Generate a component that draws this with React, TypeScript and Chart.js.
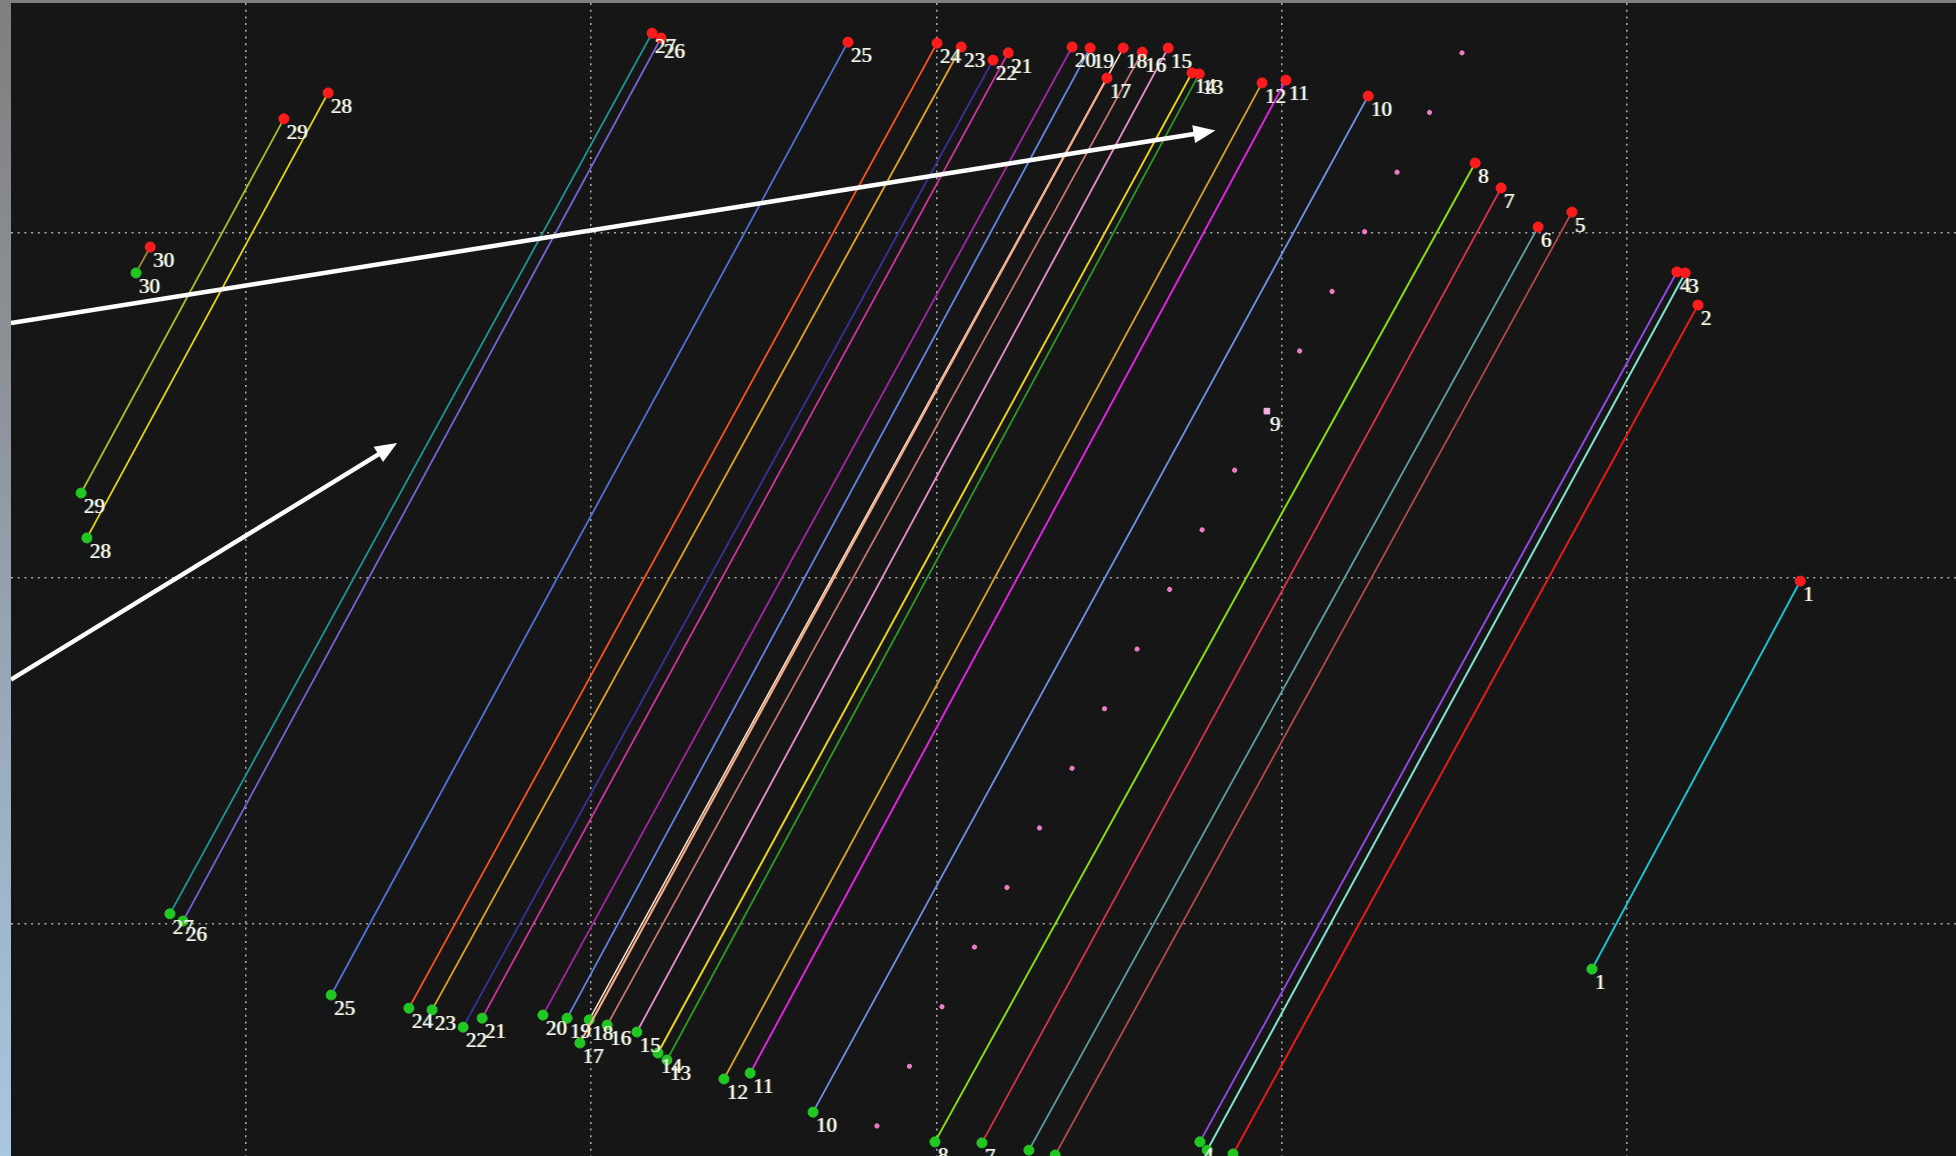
import React, { useEffect, useRef } from "react";
import { Chart, registerables } from "chart.js";

Chart.register(...registerables);

// Track ids, one straight run per id from its start (green) to its end (red)
const trackIds = [
  1, 2, 3, 4, 5, 6, 7, 8, 9, 10, 11, 12, 13, 14, 15,
  16, 17, 18, 19, 20, 21, 22, 23, 24, 25, 26, 27, 28, 29, 30,
];

const startX = [
  489.8, 385.9, 378.4, 376.3, 334.4, 326.8, 313.2, 299.6, 282.8, 264.3,
  246.1, 238.5, 222.0, 219.4, 213.3, 204.7, 196.8, 199.5, 193.1, 186.1,
  168.5, 163.0, 154.0, 147.3, 124.8, 81.9, 78.1, 54.1, 52.4, 68.3,
];
const startY = [
  86.8, 33.3, 34.4, 36.8, 33.0, 34.4, 36.5, 36.8, 41.4, 45.4,
  56.7, 55.0, 60.5, 62.5, 68.6, 70.6, 65.4, 72.1, 72.6, 73.5,
  72.6, 70.0, 75.0, 75.5, 79.3, 100.7, 102.8, 211.6, 224.6, 288.3,
];
const endX = [
  550.1, 520.5, 516.8, 514.4, 484.0, 474.2, 463.5, 456.0, 452.2, 425.0,
  401.2, 394.3, 376.1, 374.0, 367.1, 359.6, 349.4, 354.1, 344.5, 339.3,
  320.8, 316.4, 307.2, 300.2, 274.4, 220.3, 217.7, 123.9, 111.1, 72.4,
];
const endY = [
  199.1, 279.0, 288.3, 288.6, 305.9, 301.6, 312.9, 320.1, 352.0, 339.5,
  344.1, 343.3, 345.9, 346.2, 353.4, 352.2, 344.7, 353.4, 353.4, 353.7,
  352.0, 349.9, 353.7, 354.8, 355.1, 356.3, 357.7, 340.4, 332.9, 295.8,
];

const trackColors = [
  "#12c9d6", "#e41b1b", "#7fe3d2", "#9146e6", "#b3494a", "#5f9ea0",
  "#d8304f", "#8ae000", "#ea7cc6", "#6b94e6", "#e424e4", "#d9a521",
  "#2a9a22", "#ecd60c", "#e58cc9", "#c97676", "#f4aa88", "#f8dcc4",
  "#5f85e6", "#a226a6", "#d4339f", "#3535a0", "#e4a414", "#ff5512",
  "#4d72d9", "#7563d6", "#159a9a", "#ead800", "#a5c21e", "#a48634",
];

const trackWidths = [
  2, 2, 2, 2, 1.8, 1.8, 1.8, 2, 5, 1.8,
  2, 1.8, 1.8, 2, 1.8, 1.8, 2.2, 1.6, 1.8, 1.8,
  1.8, 1.8, 1.8, 1.8, 1.8, 1.8, 1.8, 1.8, 1.8, 1.8,
];

// Track 9 is drawn as a dotted trail and only labelled at one point along it
const dottedId = 9;
const dottedLabelX = 395.7;
const dottedLabelY = 248.3;
const dottedGap = 67.9;

// Annotation arrows: [fromX, fromY, toX, toY]
const arrowFromX = [32.1, 32.1];
const arrowFromY = [273.8, 170.6];
const arrowToX = [380.8, 143.9];
const arrowToY = [329.5, 239.1];

// Axis windows and the grid values that get dotted guide lines
const xMin = 32.11;
const xMax = 595.2;
const yMin = 32.71;
const yMax = 366.43;
const xGridValues = [100, 200, 300, 400, 500];
const yGridValues = [100, 200, 300];

const START_COLOR = "#22c822";
const END_COLOR = "#ff1c1c";
const PLOT_BG = "#161616";
const LABEL_FONT = '21px "Liberation Serif", "DejaVu Serif", serif';

const backgroundPlugin = {
  id: "plotBackground",
  beforeDraw(chart: any) {
    const { ctx, width, height } = chart;
    ctx.save();
    ctx.fillStyle = PLOT_BG;
    ctx.fillRect(0, 0, width, height);
    ctx.restore();
  },
};

const labelPlugin = {
  id: "trackLabels",
  afterDatasetsDraw(chart: any) {
    const { ctx } = chart;
    ctx.save();
    ctx.font = LABEL_FONT;
    ctx.textAlign = "left";
    ctx.textBaseline = "alphabetic";
    chart.data.datasets.forEach((ds: any, i: number) => {
      const meta = chart.getDatasetMeta(i);
      const id = ds.trackId;
      const pts =
        id === dottedId ? [meta.data[1]] : [meta.data[0], meta.data[meta.data.length - 1]];
      pts.forEach((p: any) => {
        if (!p) return;
        const tx = p.x + 3;
        const ty = p.y + 20;
        ctx.fillStyle = "rgba(120,200,255,0.55)";
        ctx.fillText(String(id), tx - 1, ty);
        ctx.fillStyle = "rgba(255,210,90,0.55)";
        ctx.fillText(String(id), tx + 1, ty);
        ctx.fillStyle = "#f6f6f2";
        ctx.fillText(String(id), tx, ty);
      });
    });
    ctx.restore();
  },
};

const arrowPlugin = {
  id: "arrows",
  afterDraw(chart: any) {
    const { ctx } = chart;
    const xs = chart.scales.x;
    const ys = chart.scales.y;
    ctx.save();
    ctx.strokeStyle = "#ffffff";
    ctx.fillStyle = "#ffffff";
    ctx.lineWidth = 4.5;
    arrowFromX.forEach((_, k) => {
      const x0 = xs.getPixelForValue(arrowFromX[k]);
      const y0 = ys.getPixelForValue(arrowFromY[k]);
      const x1 = xs.getPixelForValue(arrowToX[k]);
      const y1 = ys.getPixelForValue(arrowToY[k]);
      const ang = Math.atan2(y1 - y0, x1 - x0);
      const headLen = 22;
      const headHalf = 9;
      const bx = x1 - Math.cos(ang) * headLen;
      const by = y1 - Math.sin(ang) * headLen;
      ctx.beginPath();
      ctx.moveTo(x0, y0);
      ctx.lineTo(bx + Math.cos(ang) * 2, by + Math.sin(ang) * 2);
      ctx.stroke();
      ctx.beginPath();
      ctx.moveTo(x1, y1);
      ctx.lineTo(bx - Math.sin(ang) * headHalf, by + Math.cos(ang) * headHalf);
      ctx.lineTo(bx + Math.sin(ang) * headHalf, by - Math.cos(ang) * headHalf);
      ctx.closePath();
      ctx.fill();
    });
    ctx.restore();
  },
};

function buildDatasets() {
  return trackIds.map((id, i) => {
    if (id === dottedId) {
      return {
        trackId: id,
        label: String(id),
        data: [
          { x: startX[i], y: startY[i] },
          { x: dottedLabelX, y: dottedLabelY },
          { x: endX[i], y: endY[i] },
        ],
        showLine: true,
        borderColor: trackColors[i],
        borderWidth: trackWidths[i],
        borderDash: [0.1, dottedGap - 0.1],
        borderCapStyle: "round",
        pointRadius: [0, 4, 0],
        pointStyle: "rect",
        pointBackgroundColor: "#f3b0de",
        pointBorderColor: "#f3b0de",
        pointBorderWidth: 1,
      };
    }
    return {
      trackId: id,
      label: String(id),
      data: [
        { x: startX[i], y: startY[i] },
        { x: endX[i], y: endY[i] },
      ],
      showLine: true,
      borderColor: trackColors[i],
      borderWidth: trackWidths[i],
      pointRadius: 5,
      pointStyle: "circle",
      pointBackgroundColor: [START_COLOR, END_COLOR],
      pointBorderColor: [START_COLOR, END_COLOR],
      pointBorderWidth: 1,
    };
  });
}

function gridAxis(min: number, max: number, values: number[]) {
  return {
    type: "linear" as const,
    min,
    max,
    afterBuildTicks: (axis: any) => {
      axis.ticks = values.map((v) => ({ value: v }));
    },
    ticks: { display: false },
    grid: {
      color: "rgba(205,205,205,0.8)",
      lineWidth: 1.6,
      drawTicks: false,
    },
    border: { display: false, dash: [2, 4.7] },
  };
}

export default function App() {
  const canvasRef = useRef<HTMLCanvasElement>(null);

  useEffect(() => {
    const canvas = canvasRef.current;
    if (!canvas) return;
    const chart = new Chart(canvas, {
      type: "scatter",
      data: { datasets: buildDatasets() as any },
      options: {
        animation: false,
        responsive: false,
        maintainAspectRatio: false,
        devicePixelRatio: 1,
        events: [],
        layout: { padding: 0, autoPadding: false },
        plugins: {
          legend: { display: false },
          tooltip: { enabled: false },
        },
        scales: {
          x: gridAxis(xMin, xMax, xGridValues) as any,
          y: gridAxis(yMin, yMax, yGridValues) as any,
        },
      },
      plugins: [backgroundPlugin, labelPlugin, arrowPlugin],
    });
    return () => chart.destroy();
  }, []);

  return (
    <div
      style={{
        position: "fixed",
        left: 0,
        top: 0,
        width: 1956,
        height: 1156,
        overflow: "hidden",
        background:
          "linear-gradient(to bottom, #7f7f7f 0%, #8c9096 30%, #9aacbd 65%, #a9c7df 100%)",
      }}
    >
      <canvas
        ref={canvasRef}
        width={1945}
        height={1153}
        style={{ position: "absolute", left: 11, top: 3, display: "block" }}
      />
    </div>
  );
}
